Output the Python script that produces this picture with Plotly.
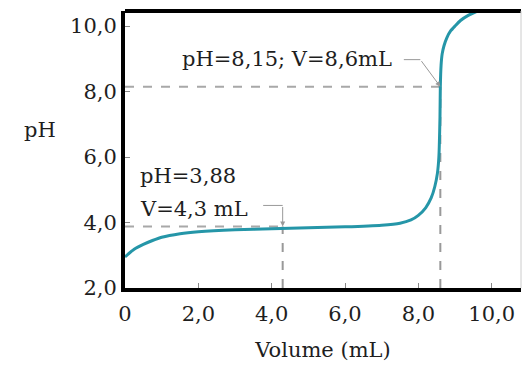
import plotly.graph_objects as go

# Titration curve data
volume = [0.0, 0.25, 0.5, 0.75, 1.0, 1.5, 2.0, 3.0, 4.0, 5.0, 6.0, 7.0, 7.5, 7.8, 8.0, 8.2,
          8.35, 8.45, 8.52, 8.56, 8.59, 8.6, 8.62, 8.65, 8.7, 8.78, 8.88, 9.0, 9.15, 9.35, 9.6, 9.8]
ph = [2.95, 3.18, 3.33, 3.45, 3.55, 3.66, 3.72, 3.78, 3.81, 3.84, 3.87, 3.92, 3.98, 4.08, 4.22, 4.45,
      4.75, 5.1, 5.5, 6.0, 7.2, 8.15, 8.8, 9.15, 9.4, 9.65, 9.85, 10.0, 10.17, 10.32, 10.45, 10.55]

x_ticks = [0, 2, 4, 6, 8, 10]
x_ticktext = ["0", "2,0", "4,0", "6,0", "8,0", "10,0"]
y_ticks = [2, 4, 6, 8, 10]
y_ticktext = ["2,0", "4,0", "6,0", "8,0", "10,0"]

# Marked points
eq_v, eq_ph = 8.6, 8.15
half_v, half_ph = 4.3, 3.88
eq_label = "pH=8,15; V=8,6mL"
half_label_1 = "pH=3,88"
half_label_2 = "V=4,3 mL"

FONT = "DejaVu Serif"
GRAY = "#a8a8a8"
TXT = "#1e1e1e"
FS = 21

fig = go.Figure()
fig.add_trace(go.Scatter(x=volume, y=ph, mode="lines",
                         line=dict(color="#2596a8", width=3, shape="spline", smoothing=0.6),
                         hoverinfo="skip", showlegend=False, cliponaxis=True))

# dashed guide lines
for v, p in [(eq_v, eq_ph), (half_v, half_ph)]:
    fig.add_shape(type="line", x0=0, x1=v, y0=p, y1=p, xref="x", yref="y",
                  line=dict(color=GRAY, width=2, dash="dash"), layer="below")
    fig.add_shape(type="line", x0=v, x1=v, y0=2, y1=p, xref="x", yref="y",
                  line=dict(color="#999999", width=2, dash="dash"), layer="below")

# top and right border
fig.add_shape(type="line", xref="paper", yref="paper", x0=0, x1=1, y0=1, y1=1,
              line=dict(color="black", width=4))
fig.add_shape(type="line", xref="paper", yref="paper", x0=1, x1=1, y0=0, y1=1,
              line=dict(color="#cccccc", width=1))

# equivalence point annotation
fig.add_annotation(x=eq_v, y=eq_ph, ax=-20, ay=-27, text="", showarrow=True,
                   arrowhead=2, arrowsize=1, arrowwidth=1, arrowcolor="#999999")
fig.add_annotation(x=eq_v, y=eq_ph, xshift=-20, yshift=27, ax=-18, ay=0, text="",
                   showarrow=True, arrowhead=0, arrowwidth=1, arrowcolor="#999999")
fig.add_annotation(x=eq_v, y=eq_ph, xshift=-46, yshift=28, text=eq_label, showarrow=False,
                   xanchor="right", yanchor="middle",
                   font=dict(family=FONT, size=FS, color=TXT))

# half-equivalence annotation
fig.add_annotation(x=half_v, y=half_ph, ax=0, ay=-21, text="", showarrow=True,
                   arrowhead=2, arrowsize=1, arrowwidth=1, arrowcolor="#999999")
fig.add_annotation(x=half_v, y=half_ph, yshift=21, ax=-21, ay=0, text="",
                   showarrow=True, arrowhead=0, arrowwidth=1, arrowcolor="#999999")
fig.add_annotation(x=0, y=half_ph, xshift=13, yshift=50, text=half_label_1, showarrow=False,
                   xanchor="left", yanchor="middle",
                   font=dict(family=FONT, size=FS, color=TXT))
fig.add_annotation(x=0, y=half_ph, xshift=13, yshift=17, text=half_label_2, showarrow=False,
                   xanchor="left", yanchor="middle",
                   font=dict(family=FONT, size=FS, color=TXT))

# y title (horizontal)
fig.add_annotation(xref="paper", yref="paper", x=-0.215, y=0.57, text="pH", showarrow=False,
                   xanchor="center", yanchor="middle",
                   font=dict(family=FONT, size=FS, color=TXT))

fig.update_layout(
    width=522, height=367,
    margin=dict(l=125, r=1, t=11, b=79),
    paper_bgcolor="white", plot_bgcolor="white",
    font=dict(family=FONT, size=FS, color=TXT),
    xaxis=dict(range=[0, 10.8], tickvals=x_ticks, ticktext=x_ticktext,
               showgrid=False, zeroline=False, showline=True, linecolor="black", linewidth=4,
               ticks="inside", ticklen=5, tickcolor="#888888", tickwidth=1,
               ticklabelstandoff=4,
               title=dict(text="Volume (mL)", standoff=18, font=dict(family=FONT, size=FS)),
               fixedrange=True),
    yaxis=dict(range=[2, 10.46], tickvals=y_ticks, ticktext=y_ticktext,
               showgrid=False, zeroline=False, showline=True, linecolor="black", linewidth=4,
               ticks="inside", ticklen=5, tickcolor="#888888", tickwidth=1,
               fixedrange=True),
)

fig.write_html("out.html")
